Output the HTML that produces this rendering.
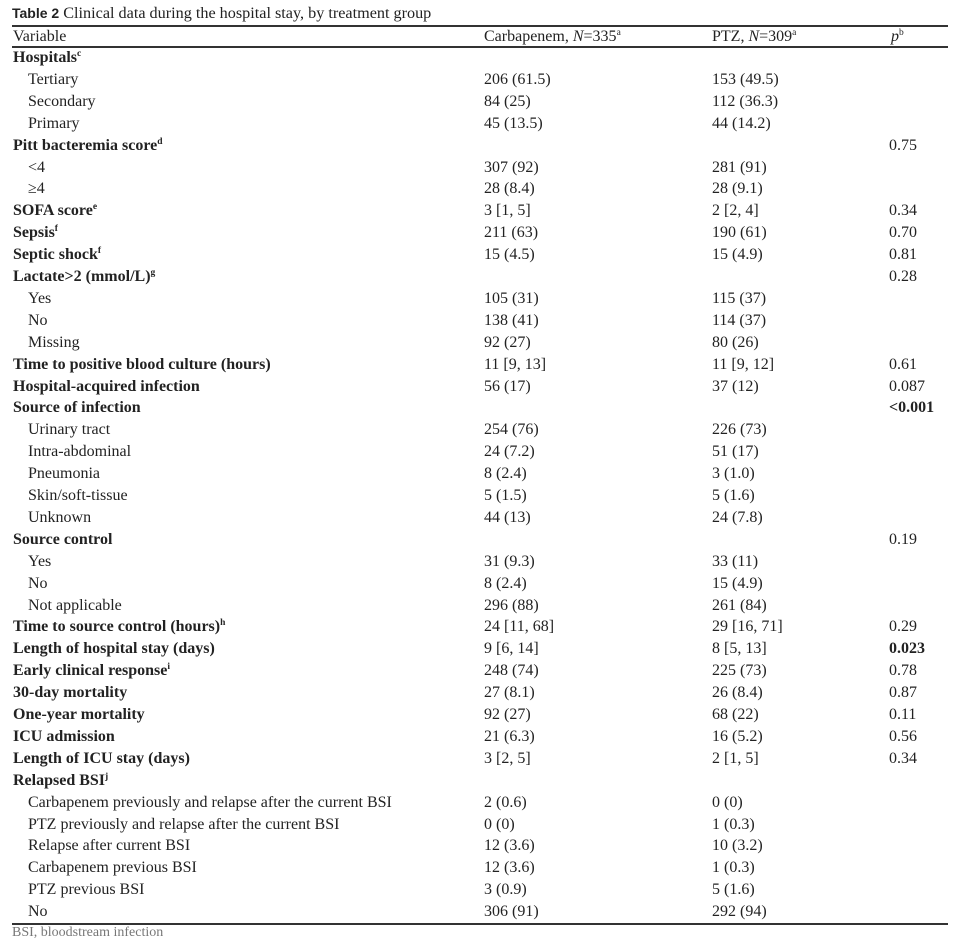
<!DOCTYPE html>
<html><head><meta charset="utf-8"><style>
body{margin:0;background:#fff;width:960px;height:930px;overflow:hidden;position:relative;font-family:"Liberation Serif",serif;font-size:16px;color:#222}
.t{position:absolute;left:12px;top:4px;font-size:16.2px;white-space:nowrap}
.t b{font-family:"Liberation Sans",sans-serif;font-size:14px}
.hl{position:absolute;left:12px;width:936px;background:#333}
.r{position:absolute;left:0;width:960px;height:22px;line-height:22px;white-space:nowrap}
.r span{position:absolute}
.a{left:13px}.i{left:28px}.c{left:484px}.p{left:712px}.q{left:889px}
sup{font-size:9.5px;line-height:0;vertical-align:6px}
.f{position:absolute;left:12px;top:925px;font-size:14px;color:#777;white-space:nowrap}
</style></head><body>
<div class="t"><b>Table 2</b> Clinical data during the hospital stay, by treatment group</div>
<div class="hl" style="top:25px;height:1.5px"></div>
<div class="r" style="top:26px"><span class="a">Variable</span><span class="c">Carbapenem, <i>N</i>=335<sup>a</sup></span><span class="p">PTZ, <i>N</i>=309<sup>a</sup></span><span class="q" style="left:891px"><i>p</i><sup>b</sup></span></div>
<div class="hl" style="top:46px;height:1.5px"></div>
<div id="rows"></div>
<div class="hl" style="top:923px;height:1.5px"></div>
<div class="f">BSI, bloodstream infection</div>
<script>
var R=[
["b","Hospitals<sup>c</sup>","","",""],
["i","Tertiary","206 (61.5)","153 (49.5)",""],
["i","Secondary","84 (25)","112 (36.3)",""],
["i","Primary","45 (13.5)","44 (14.2)",""],
["b","Pitt bacteremia score<sup>d</sup>","","","0.75"],
["i","&lt;4","307 (92)","281 (91)",""],
["i","≥4","28 (8.4)","28 (9.1)",""],
["b","SOFA score<sup>e</sup>","3 [1, 5]","2 [2, 4]","0.34"],
["b","Sepsis<sup>f</sup>","211 (63)","190 (61)","0.70"],
["b","Septic shock<sup>f</sup>","15 (4.5)","15 (4.9)","0.81"],
["b","Lactate&gt;2 (mmol/L)<sup>g</sup>","","","0.28"],
["i","Yes","105 (31)","115 (37)",""],
["i","No","138 (41)","114 (37)",""],
["i","Missing","92 (27)","80 (26)",""],
["b","Time to positive blood culture (hours)","11 [9, 13]","11 [9, 12]","0.61"],
["b","Hospital-acquired infection","56 (17)","37 (12)","0.087"],
["b","Source of infection","","","<b>&lt;0.001</b>"],
["i","Urinary tract","254 (76)","226 (73)",""],
["i","Intra-abdominal","24 (7.2)","51 (17)",""],
["i","Pneumonia","8 (2.4)","3 (1.0)",""],
["i","Skin/soft-tissue","5 (1.5)","5 (1.6)",""],
["i","Unknown","44 (13)","24 (7.8)",""],
["b","Source control","","","0.19"],
["i","Yes","31 (9.3)","33 (11)",""],
["i","No","8 (2.4)","15 (4.9)",""],
["i","Not applicable","296 (88)","261 (84)",""],
["b","Time to source control (hours)<sup>h</sup>","24 [11, 68]","29 [16, 71]","0.29"],
["b","Length of hospital stay (days)","9 [6, 14]","8 [5, 13]","<b>0.023</b>"],
["b","Early clinical response<sup>i</sup>","248 (74)","225 (73)","0.78"],
["b","30-day mortality","27 (8.1)","26 (8.4)","0.87"],
["b","One-year mortality","92 (27)","68 (22)","0.11"],
["b","ICU admission","21 (6.3)","16 (5.2)","0.56"],
["b","Length of ICU stay (days)","3 [2, 5]","2 [1, 5]","0.34"],
["b","Relapsed BSI<sup>j</sup>","","",""],
["i","Carbapenem previously and relapse after the current BSI","2 (0.6)","0 (0)",""],
["i","PTZ previously and relapse after the current BSI","0 (0)","1 (0.3)",""],
["i","Relapse after current BSI","12 (3.6)","10 (3.2)",""],
["i","Carbapenem previous BSI","12 (3.6)","1 (0.3)",""],
["i","PTZ previous BSI","3 (0.9)","5 (1.6)",""],
["i","No","306 (91)","292 (94)",""]];
var h="";
R.forEach(function(r,k){var top=47+k*21.9;
h+='<div class="r" style="top:'+top.toFixed(1)+'px">'+(r[0]=="b"?'<span class="a"><b>'+r[1]+'</b></span>':'<span class="i">'+r[1]+'</span>')+'<span class="c">'+r[2]+'</span><span class="p">'+r[3]+'</span><span class="q">'+r[4]+'</span></div>';});
document.getElementById("rows").innerHTML=h;
</script>
</body></html>
